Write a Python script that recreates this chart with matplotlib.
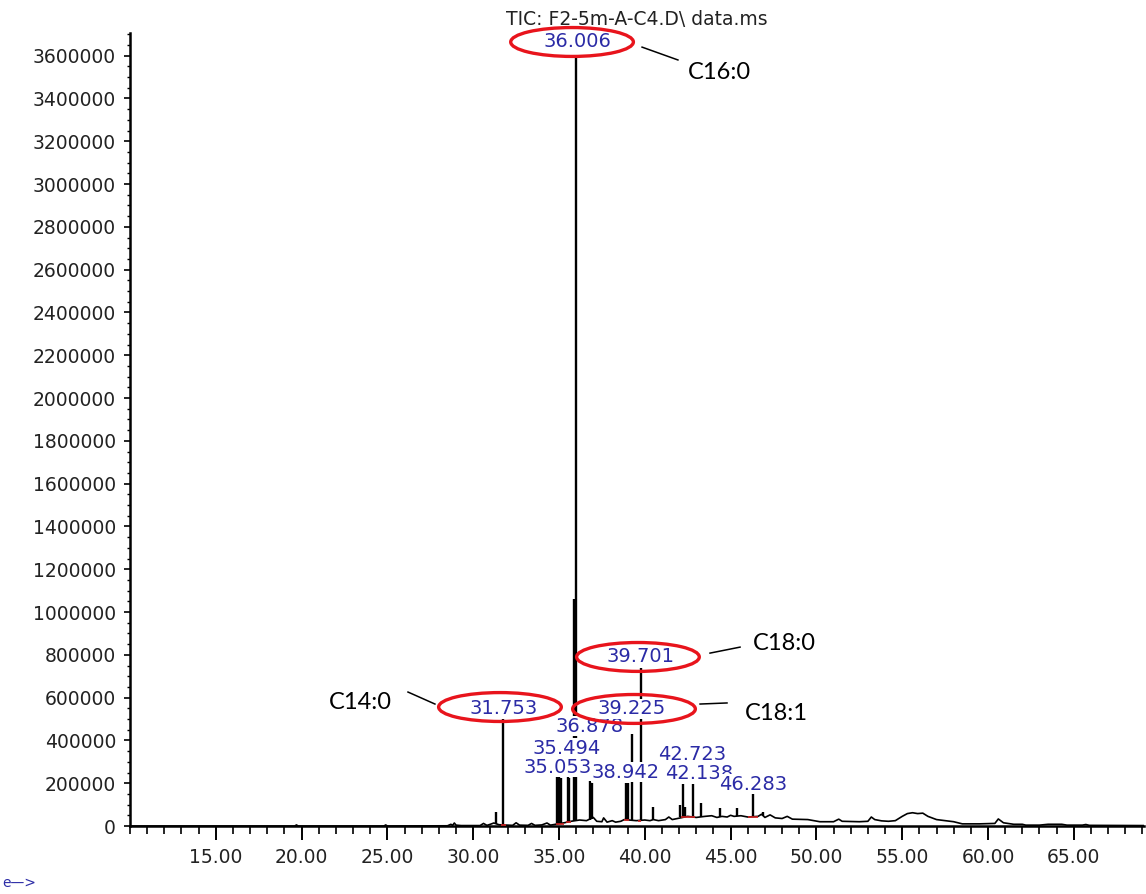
import numpy as np
import matplotlib
matplotlib.use("Agg")
import matplotlib.pyplot as plt
from matplotlib.patches import Ellipse
from matplotlib.ticker import MultipleLocator, FixedLocator, FuncFormatter

# baseline trace of the TIC (retention time, abundance)
base_rt = [10.0, 19.6, 19.7, 19.8, 24.8, 24.9, 25.0, 28.5, 28.7, 28.8, 28.9, 29.0, 29.3,
           30.4, 30.6, 30.8, 31.0, 31.2, 31.5, 32.0, 32.3, 32.5, 32.7, 33.2, 33.4, 33.6,
           34.0, 34.3, 34.5, 34.8, 35.3, 35.7, 36.2, 36.6, 37.0, 37.2, 37.5, 37.6, 37.8,
           38.1, 38.3, 38.6, 38.8, 39.5, 40.0, 40.3, 40.5, 40.8, 41.2, 41.4, 41.6, 41.9,
           42.5, 43.0, 43.5, 43.9, 44.2, 44.5, 44.8, 45.0, 45.2, 45.6, 46.0, 46.6, 46.8,
           47.0, 47.3, 47.6, 48.0, 48.3, 48.6, 49.5, 50.2, 51.0, 51.3, 51.5, 52.5, 53.0,
           53.2, 53.4, 53.8, 54.2, 54.6, 55.0, 55.3, 55.6, 55.9, 56.2, 56.5, 57.0, 57.5,
           58.0, 58.5, 59.5, 60.4, 60.6, 60.9, 61.5, 62.0, 62.2, 63.0, 63.5, 64.3, 64.6,
           65.5, 65.7, 65.9, 69.1]
base_val = [0, 0, 5000, 0, 0, 5000, 0, 1000, 8000, 3000, 14000, 4000, 2000,
            2000, 12000, 3000, 8000, 14000, 6000, 4000, 3000, 15000, 4000, 3000, 12000, 3000,
            5000, 14000, 4000, 8000, 15000, 22000, 28000, 25000, 40000, 22000, 20000, 38000, 18000,
            25000, 18000, 22000, 30000, 25000, 28000, 25000, 30000, 25000, 30000, 42000, 30000, 35000,
            45000, 40000, 45000, 48000, 40000, 45000, 42000, 50000, 45000, 48000, 42000, 45000, 55000,
            40000, 52000, 38000, 35000, 45000, 32000, 30000, 20000, 20000, 32000, 22000, 20000, 22000,
            42000, 30000, 24000, 22000, 25000, 45000, 58000, 62000, 58000, 60000, 45000, 30000, 25000,
            20000, 10000, 10000, 12000, 33000, 15000, 8000, 8000, 4000, 4000, 8000, 8000, 4000,
            4000, 7000, 3000, 2000]

# resolved peaks: apex time, apex height, foot level
peak_rt = [31.33, 31.75, 34.86, 34.98, 35.12, 35.50, 35.58, 35.87, 36.01, 36.81, 36.92,
           38.90, 39.02, 39.27, 39.75, 40.48, 42.05, 42.20, 42.35, 42.79, 43.25, 44.40,
           45.40, 46.33, 46.90]
peak_height = [65000, 500000, 230000, 230000, 225000, 230000, 225000, 1060000, 3600000, 210000, 200000,
               200000, 200000, 430000, 740000, 89000, 100000, 200000, 90000, 205000, 107000, 84000,
               84000, 150000, 65000]
peak_base = [10000, 4000, 8000, 9000, 12000, 18000, 20000, 24000, 26000, 30000, 35000,
             30000, 28000, 26000, 26000, 27000, 40000, 42000, 44000, 45000, 44000, 42000,
             47000, 42000, 45000]

# integration baselines (red)
integ_start = [31.6, 34.8, 35.4, 38.8, 39.6, 42.1, 46.0]
integ_end = [31.9, 35.3, 35.7, 39.1, 39.8, 42.9, 46.6]
integ_level = [3000, 10000, 20000, 30000, 25000, 40000, 40000]

# peak labels (text, x, y), drawn in this order
label_text = ["35.053", "42.138", "38.942", "42.723", "46.283", "35.494", "36.878",
              "31.753", "39.225", "39.701", "36.006"]
label_x = [34.90, 43.15, 38.85, 42.78, 46.33, 35.45, 36.80, 31.76, 39.22, 39.72, 36.05]
label_y = [274000, 244000, 252000, 334000, 196000, 364000, 466000, 547000, 547000, 794000, 3664000]

# circled peaks
circ_x = [35.76, 31.56, 39.60, 39.37]
circ_y = [3664000, 556000, 790000, 547000]

# fatty acid annotations
fa_names = ["C16:0", "C18:0", "C18:1", "C14:0"]
fa_x = [44.32, 48.11, 47.65, 23.40]
fa_y = [3523000, 855000, 528000, 579000]
lead_x = [(39.84, 41.93), (43.80, 45.55), (43.22, 44.79), (26.20, 27.77)]
lead_y = [(3640000, 3580000), (808000, 836000), (570000, 575000), (626000, 570000)]

fig = plt.figure(figsize=(11.46, 8.94), dpi=100)
ax = fig.add_axes([130 / 1146, 68 / 894, 1014 / 1146, 793 / 894])

ax.plot(base_rt, base_val, color="black", lw=1.2, zorder=2)
ax.vlines(peak_rt, peak_base, peak_height, color="black", lw=1.7, zorder=2)
ax.hlines(integ_level, integ_start, integ_end, color="#d02020", lw=1.2, zorder=3)

blue = "#2b2ba6"
for i, t in enumerate(label_text):
    ax.text(label_x[i], label_y[i], t, color=blue, fontsize=14, ha="center", va="center",
            family="DejaVu Sans", zorder=4 + i * 0.01, clip_on=False,
            bbox=dict(facecolor="white", edgecolor="none", pad=0.3))

for cx, cy in zip(circ_x, circ_y):
    ax.add_patch(Ellipse((cx, cy), 7.15, 135000, fill=False, edgecolor="#e8141c",
                         lw=2.4, zorder=6, clip_on=False))

for i, n in enumerate(fa_names):
    ax.plot(lead_x[i], lead_y[i], color="black", lw=1.1, clip_on=False, zorder=6)
    ax.text(fa_x[i], fa_y[i], n, fontsize=17, family="Lato", ha="center", va="center",
            color="black", zorder=6)

ax.set_xlim(10, 69.09)
ax.set_ylim(0, 3706000)

for s in ["top", "right"]:
    ax.spines[s].set_visible(False)
for s in ["left", "bottom"]:
    ax.spines[s].set_linewidth(1.8)

ax.xaxis.set_major_locator(FixedLocator([15, 20, 25, 30, 35, 40, 45, 50, 55, 60, 65]))
ax.xaxis.set_minor_locator(MultipleLocator(1))
ax.xaxis.set_major_formatter(FuncFormatter(lambda v, p: "%.2f" % v))
ax.yaxis.set_major_locator(MultipleLocator(200000))
ax.yaxis.set_minor_locator(MultipleLocator(50000))
ax.yaxis.set_major_formatter(FuncFormatter(lambda v, p: "%d" % v))

ax.tick_params(axis="x", which="major", length=10, width=1.4, pad=6, labelsize=13.5, labelcolor="#222222")
ax.tick_params(axis="x", which="minor", length=6, width=1.2)
ax.tick_params(axis="y", which="major", length=4, width=1.2, pad=6, labelsize=13.5, labelcolor="#222222")
ax.tick_params(axis="y", which="minor", length=2, width=1.0)

ax.set_title("TIC: F2-5m-A-C4.D\\ data.ms", fontsize=13.5, color="#222222", pad=6)
fig.text(0.002, 1 - 883 / 894, "e\u2014>", color=blue, fontsize=10, va="center", ha="left")

fig.savefig("out.png", dpi=100)
